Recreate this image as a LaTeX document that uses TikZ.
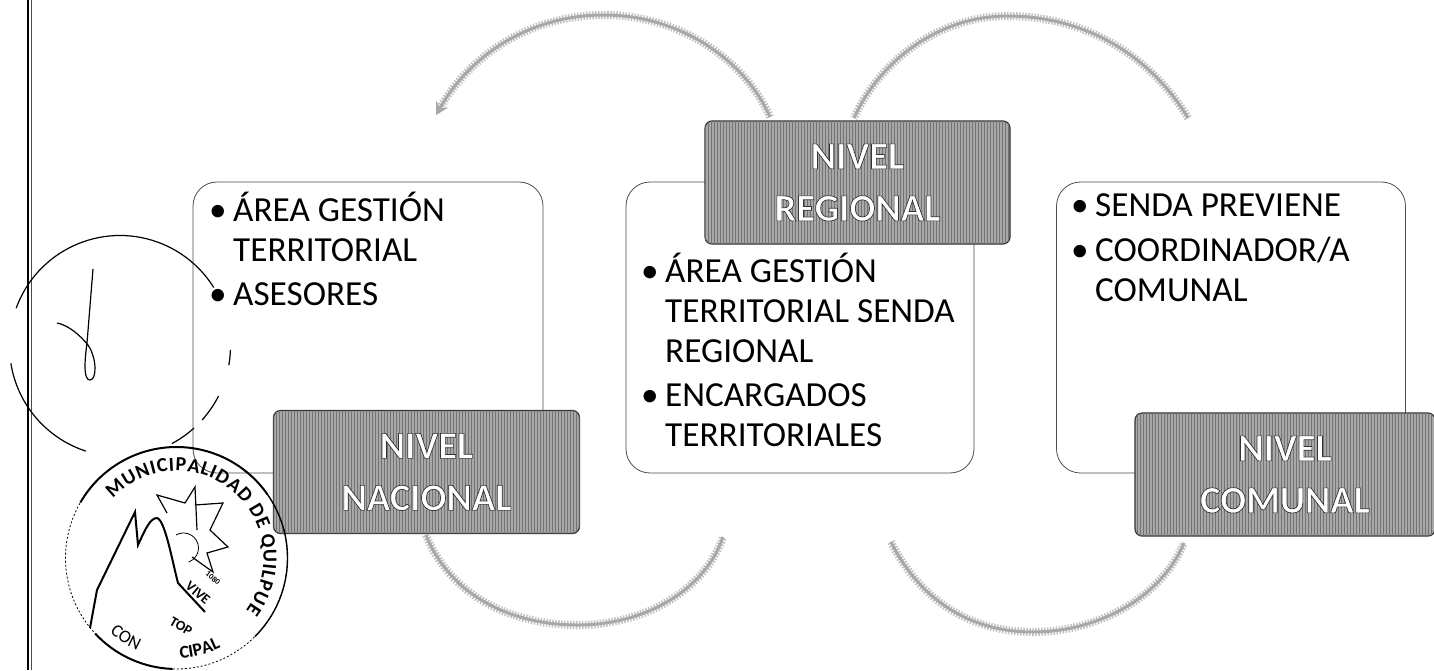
\documentclass[tikz,border=0pt]{standalone}
\usepackage{fontspec}
\setmainfont{Carlito}
\usetikzlibrary{arrows.meta,decorations.text,patterns}
\definecolor{boxgray}{gray}{0.66}
\definecolor{arcgray}{gray}{0.66}
\newcommand{\outlined}[1]{\special{pdf:code q 2 Tr 0.7 w 0.2 G}#1\special{pdf:code Q}}
\tikzset{
  x=1pt,y=-1pt,
  panel/.style={draw=black!70,line width=0.8pt,rounded corners=24pt,fill=white,inner sep=0pt,minimum height=291pt},
  level/.style={draw=black!80,line width=1.2pt,fill=boxgray,rounded corners=7pt,minimum height=123pt,inner sep=0pt,font=\fontsize{38.5}{52}\selectfont\bfseries,text=white,align=center,postaction={pattern=vertical lines,pattern color=black!55}},
  listing/.style={anchor=north west,inner sep=0pt,font=\fontsize{35.2}{40}\selectfont,align=left,text=black},
  cyc/.style={draw=arcgray,line width=3pt,preaction={draw=arcgray!70,line width=8pt,dash pattern=on 1.5pt off 1.5pt}},
  ink/.style={draw=black,line width=1.2pt},
  inkfine/.style={draw=black,line width=0.8pt},
  stamp/.style={draw=black,line width=2pt},
}
\newcommand{\bul}{\makebox[24pt][l]{\textbullet}}
\begin{document}
\begin{tikzpicture}
\useasboundingbox (0,0) rectangle (1434,670);
\fill[white] (0,0) rectangle (1434,670);
% margin rule
\draw[black,line width=1.3pt] (28,0) -- (28,670);
\draw[black!70,line width=1pt] (31,0) -- (31,670);
% panels
\node[panel,minimum width=350pt] (p1) at (368,327.5) {};
\node[panel,minimum width=348pt] (p2) at (800,327.5) {};
\node[panel,minimum width=349pt] (p3) at (1231,327.5) {};
% lists
\node[listing] (t1) at (209,192) {\bul ÁREA GESTIÓN\\\hspace*{24pt}TERRITORIAL\\[4pt]\bul ASESORES};
\node[listing] (t2) at (641,253) {\bul ÁREA GESTIÓN\\\hspace*{24pt}TERRITORIAL SENDA\\\hspace*{24pt}REGIONAL\\[4pt]\bul ENCARGADOS\\\hspace*{24pt}TERRITORIALES};
\node[listing] (t3) at (1071,193) {\bul SENDA PREVIENE\\[5pt]\bul COORDINADOR/A\\\hspace*{24pt}COMUNAL};
% levels
\node[level,minimum width=306pt] (n1) at (426.5,472) {\outlined{NIVEL}\\\outlined{NACIONAL}};
\node[level,minimum width=305pt] (n2) at (857.5,182.5) {\outlined{NIVEL}\\\outlined{REGIONAL}};
\node[level,minimum width=300pt] (n3) at (1285,474.5) {\outlined{NIVEL}\\\outlined{COMUNAL}};
% cycle arcs
\coordinate (a1s) at (770,117); \coordinate (a1e) at (436,115);
\coordinate (a2s) at (1188,118); \coordinate (a2e) at (854,118);
\coordinate (a3s) at (426,535); \coordinate (a3e) at (723,537);
\coordinate (a4s) at (891,542); \coordinate (a4e) at (1184,543);
\draw[cyc,-{Stealth[length=12pt,width=13pt]}] (a1s) .. controls (745,60) and (680,15) .. (604,15) .. controls (530,15) and (470,55) .. (a1e);
\draw[cyc] (a2s) .. controls (1150,55) and (1085,16) .. (1007,16) .. controls (940,16) and (880,60) .. (a2e);
\draw[cyc] (a3s) .. controls (450,595) and (510,625) .. (578,625) .. controls (645,625) and (705,590) .. (a3e);
\draw[cyc] (a4s) .. controls (920,600) and (970,632) .. (1033,632) .. controls (1095,632) and (1160,600) .. (a4e);
% signature circle
\coordinate (sc) at (120,346);
\draw[ink] (sc) ++(-160:110.5) arc (-160:-32:110.5);
\draw[ink] (sc) ++(171:110.5) arc (171:108:110.5);
\draw[ink] (sc) ++(42:110.5) arc (42:27:110.5);
\draw[ink] (sc) ++(62:110.5) arc (62:48:110.5);
\draw[ink] (sc) ++(10:110.5) arc (10:2:110.5);
\draw[ink] (93,269) -- (87,343) .. controls (84,365) and (84,380) .. (90,380) .. controls (97,380) and (97,358) .. (88,345) .. controls (80,335) and (68,325) .. (57,323);
% seal
\coordinate (sl) at (176.5,558);
\draw[inkfine,dash pattern=on 2pt off 2pt] (sl) circle (111);
\draw[stamp] (sl) ++(-150:111) arc (-150:-35:111);
\draw[stamp,line width=1.4pt] (sl) ++(-35:111) arc (-35:45:111);
\draw[stamp] (sl) ++(137:111) arc (137:92:111);
\path[postaction={decorate,decoration={text along path,text align=fit to path,text={|\fontsize{20}{20}\selectfont\bfseries|MUNICIPALIDAD DE QUILPUE}}}] (sl) ++(-137:87) arc (-137:37:87);
\path[postaction={decorate,decoration={text along path,text align={left indent=0pt},text={|\fontsize{18}{18}\selectfont|CON}}}] (sl) ++(132:100) arc (132:108:100);
\path[postaction={decorate,decoration={text along path,text align={left indent=0pt},text={|\fontsize{18}{18}\selectfont\bfseries|CIPAL}}}] (sl) ++(88:100) arc (88:48:100);
\draw[stamp,line width=2pt] (90,628) -- (97,590) -- (135,512) -- (138,545) .. controls (145,530) and (150,518) .. (157,518) .. controls (165,520) and (172,560) .. (178,583) -- (205,612);
\draw[inkfine,line width=1.2pt] (167,513) -- (157,495) -- (185,503) -- (195,487) -- (197,530) (195,505) -- (223,503) -- (210,530) -- (228,547) -- (207,553) -- (213,572) -- (192,557);
\draw[inkfine] (176,535) arc (-120:70:15);
\node[font=\fontsize{14}{14}\selectfont\bfseries,rotate=-40,inner sep=0pt] (vive) at (198,593) {VIVE};
\node[font=\fontsize{8}{8}\selectfont\bfseries,rotate=-40,inner sep=0pt] (yr) at (213,578) {1080};
\node[font=\fontsize{14}{14}\selectfont\bfseries,rotate=-30,inner sep=0pt] (dir) at (181,626) {TOP};
\end{tikzpicture}
\end{document}
